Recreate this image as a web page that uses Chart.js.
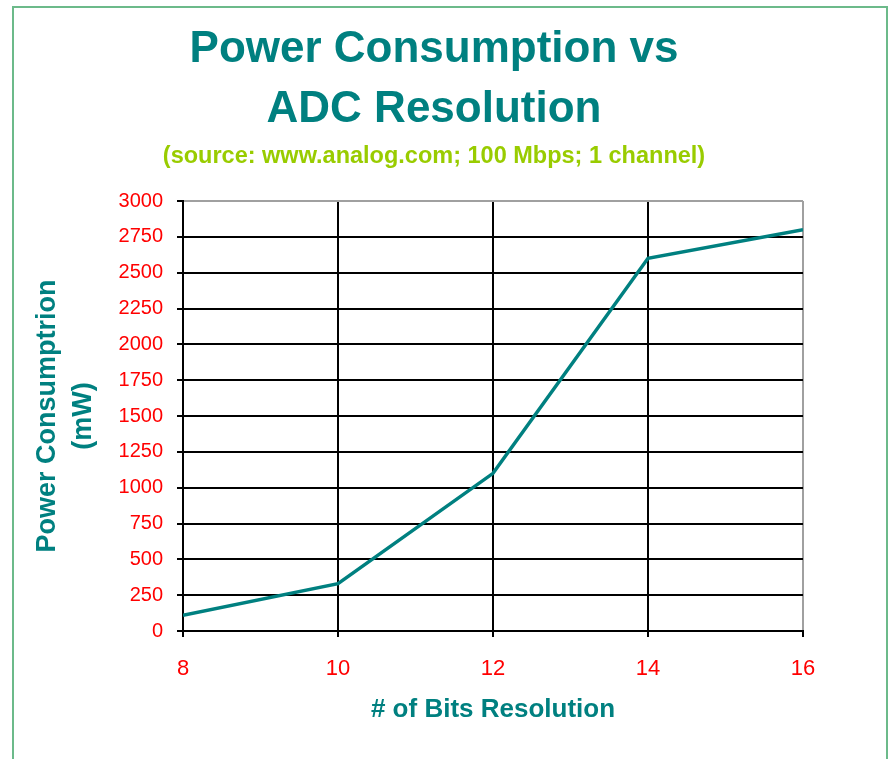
<!DOCTYPE html>
<html>
<head>
<meta charset="utf-8">
<title>Power Consumption vs ADC Resolution</title>
<script src="https://cdn.jsdelivr.net/npm/chart.js@4.4.1/dist/chart.umd.min.js"></script>
<style>
    html, body { margin: 0; padding: 0; background: #fff; overflow: hidden; }
    #frame {
        position: absolute;
        left: 12px;
        top: 6px;
        width: 872px;
        height: 800px;
        border: 2px solid #6cba8a;
    }
    #powerChart { position: absolute; left: 0; top: 0; }
</style>
</head>
<body>
<div id="frame"></div>
<canvas id="powerChart" width="891" height="759"></canvas>
<script>
// values
var bits = [8, 10, 12, 14, 16];
var powerMw = [110, 330, 1100, 2600, 2800];
var xTicks = [8, 10, 12, 14, 16];
var yTicks = [0, 250, 500, 750, 1000, 1250, 1500, 1750, 2000, 2250, 2500, 2750, 3000];

var teal = '#008080';
var fontFamily = '"Liberation Sans", Arial, sans-serif';

document.addEventListener('DOMContentLoaded', function() {
    var points = bits.map(function(b, i) { return { x: b, y: powerMw[i] }; });

    var ctx = document.getElementById('powerChart').getContext('2d');
    var powerChart = new Chart(ctx, {
        type: 'line',
        data: {
            datasets: [{
                label: 'Power',
                data: points,
                borderColor: teal,
                borderWidth: 3.5,
                pointRadius: 0,
                fill: false,
                tension: 0
            }]
        },
        options: {
            responsive: false,
            animation: false,
            // left padding shifts the title centre to match the picture
            layout: { padding: { left: 65, right: 88, top: 0, bottom: 0 } },
            plugins: {
                legend: { display: false },
                tooltip: { enabled: false },
                title: {
                    display: true,
                    text: ['Power Consumption vs', 'ADC Resolution'],
                    color: teal,
                    font: { family: fontFamily, size: 44, weight: 'bold', lineHeight: 60 / 44 },
                    padding: { top: 20, bottom: 0 }
                },
                subtitle: {
                    display: true,
                    text: '(source: www.analog.com; 100 Mbps; 1 channel)',
                    color: '#99cc00',
                    font: { family: fontFamily, size: 23.5, weight: 'bold', lineHeight: 1.2 },
                    padding: { top: 2, bottom: 30.8 }
                }
            },
            scales: {
                x: {
                    type: 'linear',
                    min: xTicks[0],
                    max: xTicks[xTicks.length - 1],
                    afterBuildTicks: function(scale) {
                        scale.ticks = xTicks.map(function(v) { return { value: v }; });
                    },
                    afterFit: function(scale) { scale.height = 128; },
                    ticks: {
                        color: '#ff0000',
                        padding: 19,
                        font: { family: fontFamily, size: 22 },
                        callback: function(v) { return String(v); }
                    },
                    grid: {
                        color: function(c) { return c.tick && c.tick.value === 16 ? '#a0a0a0' : '#000'; },
                        tickColor: '#000',
                        lineWidth: 2,
                        tickLength: 6
                    },
                    border: { color: '#000', width: 2 },
                    title: {
                        display: true,
                        text: '# of Bits Resolution',
                        color: teal,
                        font: { family: fontFamily, size: 26, weight: 'bold', lineHeight: 1.2 },
                        padding: { top: 0, bottom: 33.4 }
                    }
                },
                y: {
                    min: yTicks[0],
                    max: yTicks[yTicks.length - 1],
                    afterBuildTicks: function(scale) {
                        scale.ticks = yTicks.map(function(v) { return { value: v }; });
                    },
                    afterFit: function(scale) { scale.width = 118; },
                    ticks: {
                        color: '#ff0000',
                        padding: 14,
                        font: { family: fontFamily, size: 20 },
                        callback: function(v) { return String(v); }
                    },
                    grid: {
                        color: function(c) { return c.tick && c.tick.value === 3000 ? '#a0a0a0' : '#000'; },
                        tickColor: '#000',
                        lineWidth: 2,
                        tickLength: 6
                    },
                    border: { color: '#000', width: 2 },
                    title: {
                        display: true,
                        text: ['Power Consumptrion', '(mW)'],
                        color: teal,
                        font: { family: fontFamily, size: 27, weight: 'bold', lineHeight: 36 / 27 },
                        padding: { top: -35, bottom: 0 }
                    }
                }
            }
        }
    });
});
</script>
</body>
</html>
